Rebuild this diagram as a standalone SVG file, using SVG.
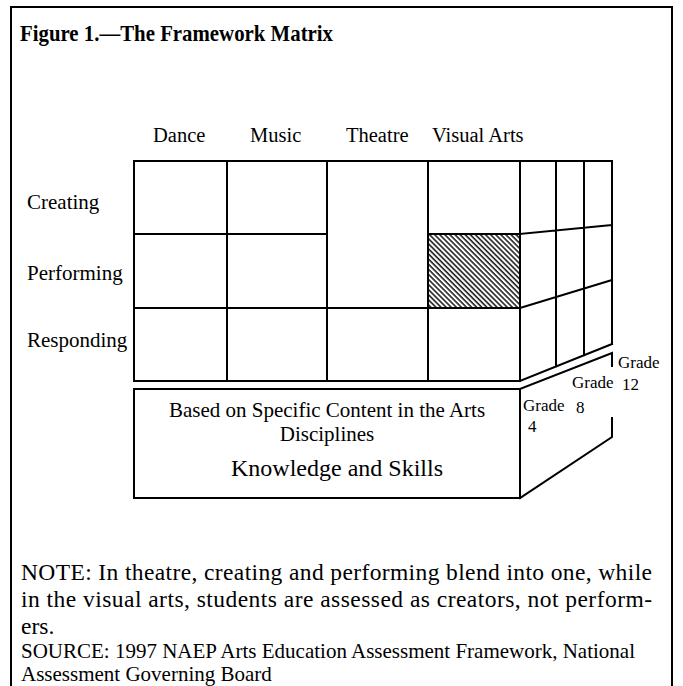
<svg xmlns="http://www.w3.org/2000/svg" width="683" height="686" viewBox="0 0 683 686">
<style>
text{font-family:"Liberation Serif","Times New Roman",serif;fill:#000}
.ln{stroke:#000;stroke-width:2;fill:none;stroke-linecap:square}
.title{font-size:24px;font-weight:bold}
.lbl{font-size:20.5px}
.row{font-size:21px}
.grade{font-size:17px}
.base{font-size:21px}
.ks{font-size:24px}
.note{font-size:23.5px}
.src{font-size:21px}
</style>
<defs>
<pattern id="hatch" width="3.6" height="10" patternUnits="userSpaceOnUse" patternTransform="rotate(-45)">
<line x1="1" y1="-1" x2="1" y2="11" stroke="#000" stroke-width="1.4"/>
</pattern>
</defs>
<rect width="683" height="686" fill="#fff"/>
<path class="ln" d="M11,690 V7 H672 V690"/>
<text class="title" x="20" y="41" textLength="313" lengthAdjust="spacingAndGlyphs">Figure 1.—The Framework Matrix</text>

<g id="columns" class="lbl">
<text x="153" y="142">Dance</text>
<text x="250" y="142">Music</text>
<text x="346" y="142">Theatre</text>
<text x="432" y="142">Visual Arts</text>
</g>
<g id="rows" class="row">
<text x="27" y="209">Creating</text>
<text x="27" y="280">Performing</text>
<text x="27" y="347">Responding</text>
</g>

<g id="matrix">
<rect x="428" y="234" width="92" height="74" fill="url(#hatch)"/>
<rect class="ln" x="134" y="161" width="386" height="220"/>
<path class="ln" d="M227,161 V381 M327,161 V381 M428,161 V381 M134,234 H327 M428,234 H520 M134,308 H520"/>
</g>
<g id="grades-side">
<path class="ln" d="M520,161 H612 V344 M520,234 L612,225 M520,308 L612,280 M520,381 L612,344 M556,161 V366.5 M584,161 V355.3"/>
</g>

<g id="base">
<rect class="ln" x="134" y="389" width="386" height="109"/>
<path class="ln" d="M520,389 L612,353 V366 M612,418 V437 L520,498"/>
<text class="base" x="327" y="417" text-anchor="middle">Based on Specific Content in the Arts</text>
<text class="base" x="327" y="441" text-anchor="middle">Disciplines</text>
<text class="ks" x="337" y="476" text-anchor="middle">Knowledge and Skills</text>
</g>

<g id="grade-labels" class="grade">
<text x="523" y="411">Grade</text>
<text x="528" y="432">4</text>
<text x="572" y="388">Grade</text>
<text x="576" y="413">8</text>
<text x="618" y="368">Grade</text>
<text x="622" y="390">12</text>
</g>

<g id="note" class="note">
<text x="21" y="580" textLength="631" lengthAdjust="spacing">NOTE: In theatre, creating and performing blend into one, while</text>
<text x="21" y="607" textLength="631" lengthAdjust="spacing">in the visual arts, students are assessed as creators, not perform-</text>
<text x="21" y="634">ers.</text>
</g>
<g id="source" class="src">
<text x="21" y="658">SOURCE: 1997 NAEP Arts Education Assessment Framework, National</text>
<text x="21" y="681">Assessment Governing Board</text>
</g>
</svg>
